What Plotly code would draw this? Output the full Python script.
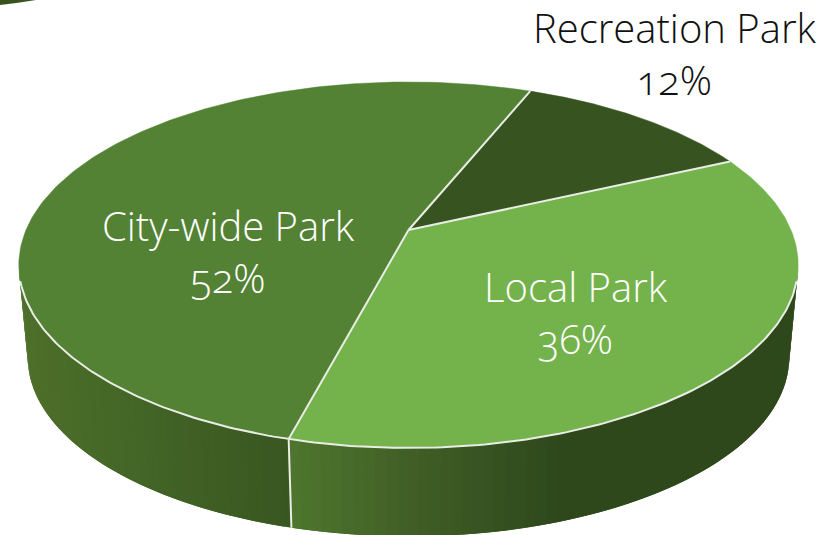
import numpy as np
import plotly.graph_objects as go

# Park categories and their shares, clockwise from the first slice
categories = ["Recreation Park", "Local Park", "City-wide Park"]
shares = [12, 36, 52]

W, H = 834, 535
START_DEG = 22.0          # clockwise from twelve o'clock
CX, CY = 408.5, 230.0     # projected disc centre
SCALE_X, SCALE_Y = 382.5, 176.3
PERSPECTIVE = 0.191
DEPTH_Y, DEPTH_SHRINK = 93.5, 0.977

TOP_COLORS = {"Recreation Park": "#37531f", "Local Park": "#74b24c", "City-wide Park": "#548235"}
SEAM = "#e9ede5"
SIDE_RAMPS = {
    "Local Park": [(290, (78, 118, 45)), (414, (64, 94, 38)), (560, (46, 72, 28)), (800, (46, 72, 28))],
    "City-wide Park": [(20, (78, 112, 42)), (150, (66, 100, 38)), (288, (57, 87, 33))],
}
FONT = "Open Sans"


def project(theta_deg, radius=1.0):
    """Perspective projection of a point on the top face of the pie."""
    t = np.radians(theta_deg)
    px, py = radius * np.sin(t), radius * np.cos(t)
    w = 1 + PERSPECTIVE * py
    return CX + SCALE_X * px / w, CY - SCALE_Y * py / w


def project_lower(theta_deg):
    x, y = project(theta_deg)
    return CX + (x - CX) * DEPTH_SHRINK, CY + DEPTH_Y + (y - CY) * DEPTH_SHRINK


def ramp_color(ramp, x):
    xs = [p[0] for p in ramp]
    rgb = [np.interp(x, xs, [p[1][i] for p in ramp]) for i in range(3)]
    return "rgb(%d,%d,%d)" % tuple(int(round(c)) for c in rgb)


# Slice boundaries come straight from the shares
total = sum(shares)
edges = START_DEG + np.cumsum([0] + shares) / total * 360.0
spans = {c: (edges[i], edges[i + 1]) for i, c in enumerate(categories)}

fig = go.Figure()

# Outer wall, drawn as shaded strips; each one overlaps the next so no gaps show
WALL_FROM, WALL_TO = 101.0, 259.0
for name, ramp in SIDE_RAMPS.items():
    a, b = spans[name]
    a, b = max(a, WALL_FROM), min(b, WALL_TO)
    steps = np.linspace(a, b, 71)
    step = steps[1] - steps[0]
    for t0 in steps[:-1]:
        t1 = min(t0 + step * 2.0, b)
        xa, ya = project(t0)
        xb, yb = project(t1)
        xc, yc = project_lower(t1)
        xd, yd = project_lower(t0)
        mid_x = (project(t0 + step / 2)[0] + project_lower(t0 + step / 2)[0]) / 2
        col = ramp_color(ramp, mid_x)
        fig.add_trace(go.Scatter(
            x=[xa, xb, xc, xd, xa], y=[ya, yb, yc, yd, ya],
            mode="none", fill="toself", fillcolor=col, hoverinfo="skip", showlegend=False,
        ))

# Seam on the wall where the two front slices meet
seam_theta = edges[2]
sx0, sy0 = project(seam_theta)
sx1, sy1 = project_lower(seam_theta)
fig.add_trace(go.Scatter(x=[sx0, sx1], y=[sy0, sy1], mode="lines",
                         line=dict(color=SEAM, width=2), hoverinfo="skip", showlegend=False))

# Top face of each slice
for name in categories:
    a, b = spans[name]
    arc = np.linspace(a, b, 160)
    xs, ys = project(arc)
    fig.add_trace(go.Scatter(
        x=np.r_[CX, xs, CX], y=np.r_[CY, ys, CY],
        mode="lines", fill="toself", fillcolor=TOP_COLORS[name],
        line=dict(color=TOP_COLORS[name], width=0.5), name=name, hoverinfo="skip", showlegend=False,
    ))

# Pale separators between the slices and along the front rim
for t in edges[:3]:
    ex, ey = project(t)
    fig.add_trace(go.Scatter(x=[CX, ex], y=[CY, ey], mode="lines",
                             line=dict(color=SEAM, width=2), hoverinfo="skip", showlegend=False))
rim_x, rim_y = project(np.linspace(106, 254, 200))
fig.add_trace(go.Scatter(x=rim_x, y=rim_y, mode="lines",
                         line=dict(color=SEAM, width=2), hoverinfo="skip", showlegend=False))


def label_text(name, value):
    pct = round(value / total * 100)
    return '%s<br><span style="font-variant-numeric: oldstyle-nums">%d%%</span>' % (name, pct)


# Label anchors: centre x, centre y, colour
label_spots = {
    "Recreation Park": (675, 53, "#111111"),
    "Local Park": (576, 312, "#ffffff"),
    "City-wide Park": (228, 251, "#ffffff"),
}
for name, value in zip(categories, shares):
    lx, ly, col = label_spots[name]
    fig.add_annotation(x=lx, y=ly, text=label_text(name, value), showarrow=False,
                       xanchor="center", yanchor="middle", align="center",
                       font=dict(family=FONT, size=40, color=col, weight=300))

fig.update_xaxes(range=[0, W], visible=False, fixedrange=True)
fig.update_yaxes(range=[H, 0], visible=False, fixedrange=True)
fig.update_layout(
    width=W, height=H, margin=dict(l=0, r=0, t=0, b=0),
    paper_bgcolor="white", plot_bgcolor="white", showlegend=False,
    # Sliver of a neighbouring dark wedge cut by the top edge
    shapes=[dict(type="path", xref="x", yref="y", layer="above",
                 path="M0,0 L36,0 Q18,3 0,5 Z", fillcolor="#37531f", line_width=0)],
)
fig.write_html("out.html", config={"displayModeBar": False})
